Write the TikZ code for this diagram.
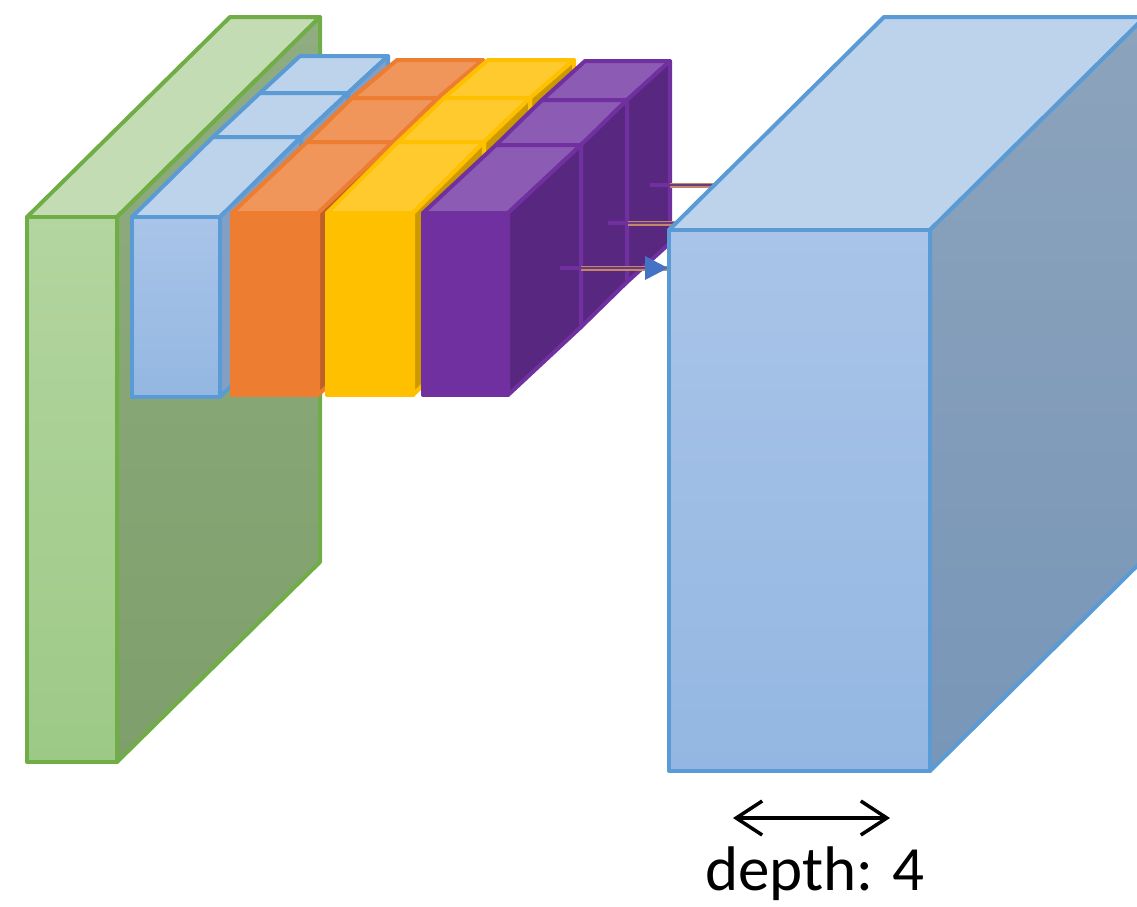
\documentclass[tikz,border=0pt]{standalone}
\usepackage{fontspec}
\setmainfont{Carlito}
\usetikzlibrary{arrows.meta}
\definecolor{gLine}{HTML}{70AD47}
\definecolor{gTop}{HTML}{C3DCB4}
\definecolor{gFrontT}{HTML}{B3D5A0}
\definecolor{gFrontB}{HTML}{9DC986}
\definecolor{gSideT}{HTML}{90AD81}
\definecolor{gSideB}{HTML}{7E9F6B}
\definecolor{bLine}{HTML}{5B9BD5}
\definecolor{bTop}{HTML}{BDD3EB}
\definecolor{bFrontT}{HTML}{A9C4E8}
\definecolor{bFrontB}{HTML}{93B7E2}
\definecolor{bSide}{HTML}{839FC4}
\definecolor{bSideT}{HTML}{8CA3BC}
\definecolor{bSideB}{HTML}{7896B8}
\definecolor{oLine}{HTML}{ED7D31}
\definecolor{oTop}{HTML}{F0965A}
\definecolor{oSide}{HTML}{BF6127}
\definecolor{yLine}{HTML}{FFC000}
\definecolor{yTop}{HTML}{FFCA2E}
\definecolor{ySide}{HTML}{CC9900}
\definecolor{pLine}{HTML}{7030A0}
\definecolor{pTop}{HTML}{8C5BB3}
\definecolor{pSide}{HTML}{58277F}
\definecolor{brownLine}{HTML}{C08A6A}
\definecolor{innerLine}{HTML}{6E3A7E}
\definecolor{tipBlue}{HTML}{4472C4}
\newcommand{\cubeseg}[9]{%
  \path[#9top] ({#1+#5},{#3+#6}) -- ({#2+#5},{#3+#6}) -- ({#2+#7},{#3+#8}) -- ({#1+#7},{#3+#8}) -- cycle;
  \path[#9side] ({#2+#5},{#3+#6}) -- ({#2+#7},{#3+#8}) -- ({#2+#7},{#4+#8}) -- ({#2+#5},{#4+#6}) -- cycle;}
\begin{document}
\begin{tikzpicture}[x=1pt,y=-1pt,line join=round,
  edge/.style={line width=4pt},
  gtop/.style={edge,draw=gLine,fill=gTop},
  gside/.style={edge,draw=gLine,top color=gSideT,bottom color=gSideB},
  gfront/.style={edge,draw=gLine,top color=gFrontT,bottom color=gFrontB},
  btop/.style={edge,draw=bLine,fill=bTop},
  bside/.style={edge,draw=bLine,fill=bSide},
  bfront/.style={edge,draw=bLine,top color=bFrontT,bottom color=bFrontB},
  Btop/.style={edge,draw=bLine,fill=bTop},
  Bside/.style={edge,draw=bLine,top color=bSideT,bottom color=bSideB},
  otop/.style={edge,draw=oLine,fill=oTop},
  oside/.style={edge,draw=oLine,fill=oSide},
  ofront/.style={edge,draw=oLine,fill=oLine},
  ytop/.style={edge,draw=yLine,fill=yTop},
  yside/.style={edge,draw=yLine,fill=ySide},
  yfront/.style={edge,draw=yLine,fill=yLine},
  ptop/.style={edge,draw=pLine,fill=pTop},
  pside/.style={edge,draw=pLine,fill=pSide},
  pfront/.style={edge,draw=pLine,fill=pLine},
  stub/.style={draw=pLine,line width=4pt},
  outerln/.style={draw=brownLine,line width=5pt},
  innerln/.style={draw=innerLine,line width=2pt},
  dim/.style={line width=3.5pt,{Straight Barb[length=26pt,width=34pt,line width=3.5pt]}-{Straight Barb[length=26pt,width=34pt,line width=3.5pt]}},
  lbl/.style={font=\fontsize{63}{72}\selectfont,inner sep=0pt,anchor=base}]
\clip (0,0) rectangle (1137,906);
% green input slab
\cubeseg{27}{117}{217}{762}{0}{0}{203}{-200}{g}
\path[gfront] (27,217) rectangle (117,762);
% blue column
\cubeseg{132}{220}{217}{397}{128}{-124}{168}{-161}{b}
\cubeseg{132}{220}{217}{397}{81}{-80}{128}{-124}{b}
\cubeseg{132}{220}{217}{397}{0}{0}{81}{-80}{b}
\path[bfront] (132,217) rectangle (220,397);
% orange column
\cubeseg{232}{318}{213}{395}{120}{-115}{165}{-153}{o}
\cubeseg{232}{318}{213}{395}{75}{-71}{120}{-115}{o}
\cubeseg{232}{318}{213}{395}{0}{0}{75}{-71}{o}
\path[ofront] (232,213) rectangle (318,395);
% yellow column
\cubeseg{327}{413}{213}{395}{117}{-115}{161}{-153}{y}
\cubeseg{327}{413}{213}{395}{71}{-71}{117}{-115}{y}
\cubeseg{327}{413}{213}{395}{0}{0}{71}{-71}{y}
\path[yfront] (327,213) rectangle (413,395);
% purple column
\cubeseg{423}{508}{213}{395}{119}{-113}{162}{-152}{p}
\cubeseg{423}{508}{213}{395}{73}{-68}{119}{-113}{p}
\cubeseg{423}{508}{213}{395}{0}{0}{73}{-68}{p}
\path[pfront] (423,213) rectangle (508,395);
% connectors from the purple column
\coordinate (s1) at (650,185); \coordinate (m1) at (670,185); \coordinate (e1) at (725,185);
\coordinate (s2) at (608,223); \coordinate (m2) at (628,223); \coordinate (e2) at (690,223);
\coordinate (s3) at (560,268); \coordinate (m3) at (581,268); \coordinate (e3) at (668,268);
\draw[stub] (s1) -- (m1);
\draw[stub] (s2) -- (m2);
\draw[stub] (s3) -- (m3);
\draw[outerln] (m1) -- (e1); \draw[innerln] (m1) -- (e1);
\draw[outerln] (m2) -- (e2); \draw[innerln] (m2) -- (e2);
\draw[outerln] (m3) -- (e3); \draw[innerln] (m3) -- (e3);
\fill[tipBlue] (e3) -- ++(-23,-12) -- ++(0,24) -- cycle;
% big output box
\cubeseg{669}{930}{230}{771}{0}{0}{215}{-213}{B}
\path[bfront] (669,230) rectangle (930,771);
% depth annotation
\coordinate (dl) at (733,818);
\coordinate (dr) at (890,818);
\draw[dim] (dl) -- (dr);
\node[lbl] (depth) at (815,890) {depth: 4};
\end{tikzpicture}
\end{document}
